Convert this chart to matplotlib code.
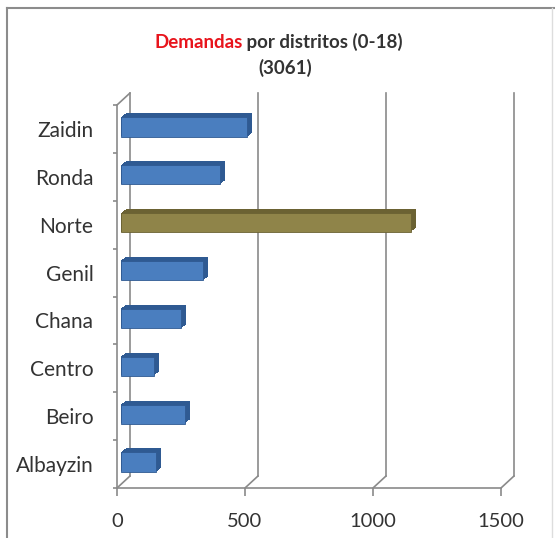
import matplotlib.pyplot as plt
from matplotlib.lines import Line2D
from matplotlib.transforms import ScaledTranslation

distritos = ['Albayzin', 'Beiro', 'Centro', 'Chana', 'Genil', 'Norte', 'Ronda', 'Zaidin']
demandas = [140, 250, 130, 238, 324, 1133, 390, 496]
destacado = 'Norte'
xticks = [0, 500, 1000, 1500]

plt.rcParams['font.family'] = ['Lato', 'DejaVu Sans']

fig = plt.figure(figsize=(5.55, 5.38), dpi=100)
W, H = 555, 538
ax = fig.add_axes([117 / W, 1 - 488 / H, (501 - 117) / W, (488 - 105) / H])
ax.set_xlim(0, 1500)
ax.set_ylim(-0.5, len(distritos) - 0.5)
ax.patch.set_visible(False)

gris = '#8a8a8a'
for s in ['top', 'right']:
    ax.spines[s].set_visible(False)
for s in ['left', 'bottom']:
    ax.spines[s].set_color(gris)
    ax.spines[s].set_linewidth(1.2)

# pared del fondo (efecto 3D)
dx, dy = 13 / 100, 12 / 100
fondo = ax.transData + ScaledTranslation(dx, dy, fig.dpi_scale_trans)
ytop = len(distritos) - 0.5
for v in xticks:
    ax.plot([v, v], [-0.5, ytop], color=gris, lw=1.2, transform=fondo, clip_on=False, zorder=1)
    ax.annotate('', xy=(v, -0.5), xytext=(13, 12), textcoords='offset pixels',
                arrowprops=dict(arrowstyle='-', color=gris, lw=1.2, shrinkA=0, shrinkB=0))
ax.annotate('', xy=(0, ytop), xytext=(13, 12), textcoords='offset pixels',
            arrowprops=dict(arrowstyle='-', color=gris, lw=1.2, shrinkA=0, shrinkB=0))

# barras con profundidad
for i, (d, v) in enumerate(zip(distritos, demandas)):
    if d == destacado:
        cara, lado = '#8f8449', '#6b6233'
    else:
        cara, lado = '#4a7ebf', '#2f5a92'
    pasos = 8
    for k in range(pasos, 0, -1):
        off = ax.transData + ScaledTranslation((3.5 + 5 * k / pasos) / 100, (2 + 4 * k / pasos) / 100,
                                               fig.dpi_scale_trans)
        ax.barh(i, v, height=0.4, color=lado, transform=off, zorder=3)
    off = ax.transData + ScaledTranslation(3.5 / 100, 2 / 100, fig.dpi_scale_trans)
    ax.barh(i, v, height=0.4, color=cara, edgecolor=lado, lw=0.6, transform=off, zorder=4)

ax.set_xticks(xticks)
ax.set_xticklabels([str(t) for t in xticks])
ax.set_yticks(range(len(distritos)))
ax.set_yticklabels(distritos)
ax.set_yticks([i - 0.5 for i in range(len(distritos) + 1)], minor=True)
ax.tick_params(axis='x', length=6, width=1.2, color=gris, pad=12, labelsize=14.5, labelcolor='#333333')
ax.tick_params(axis='y', which='major', length=0, pad=17, labelsize=15, labelcolor='#333333')
ax.tick_params(axis='y', which='minor', length=3, width=1.2, color=gris)

# titulo
t1 = fig.text(154 / W, 1 - 48 / H, 'Demandas', color='#e8141c', fontsize=13.5, fontweight='bold',
              ha='left', va='baseline')
ax.annotate(' por distritos (0-18)', xy=(1, 0), xycoords=t1, ha='left', va='bottom',
            color='#333333', fontsize=13.5, fontweight='bold')
fig.text(285 / W, 1 - 74 / H, '(3061)', color='#333333', fontsize=13.5, fontweight='bold',
         ha='center', va='baseline')

# marco del grafico
fig.add_artist(Line2D([7 / W, 7 / W], [0, 1 - 8 / H], color='#8c8c8c', lw=1.5))
fig.add_artist(Line2D([7 / W, 1], [1 - 8 / H, 1 - 8 / H], color='#8c8c8c', lw=1.5))
fig.add_artist(Line2D([552 / W, 552 / W], [0, 1 - 8 / H], color='#dddddd', lw=1))

fig.savefig('out.png', dpi=100)
